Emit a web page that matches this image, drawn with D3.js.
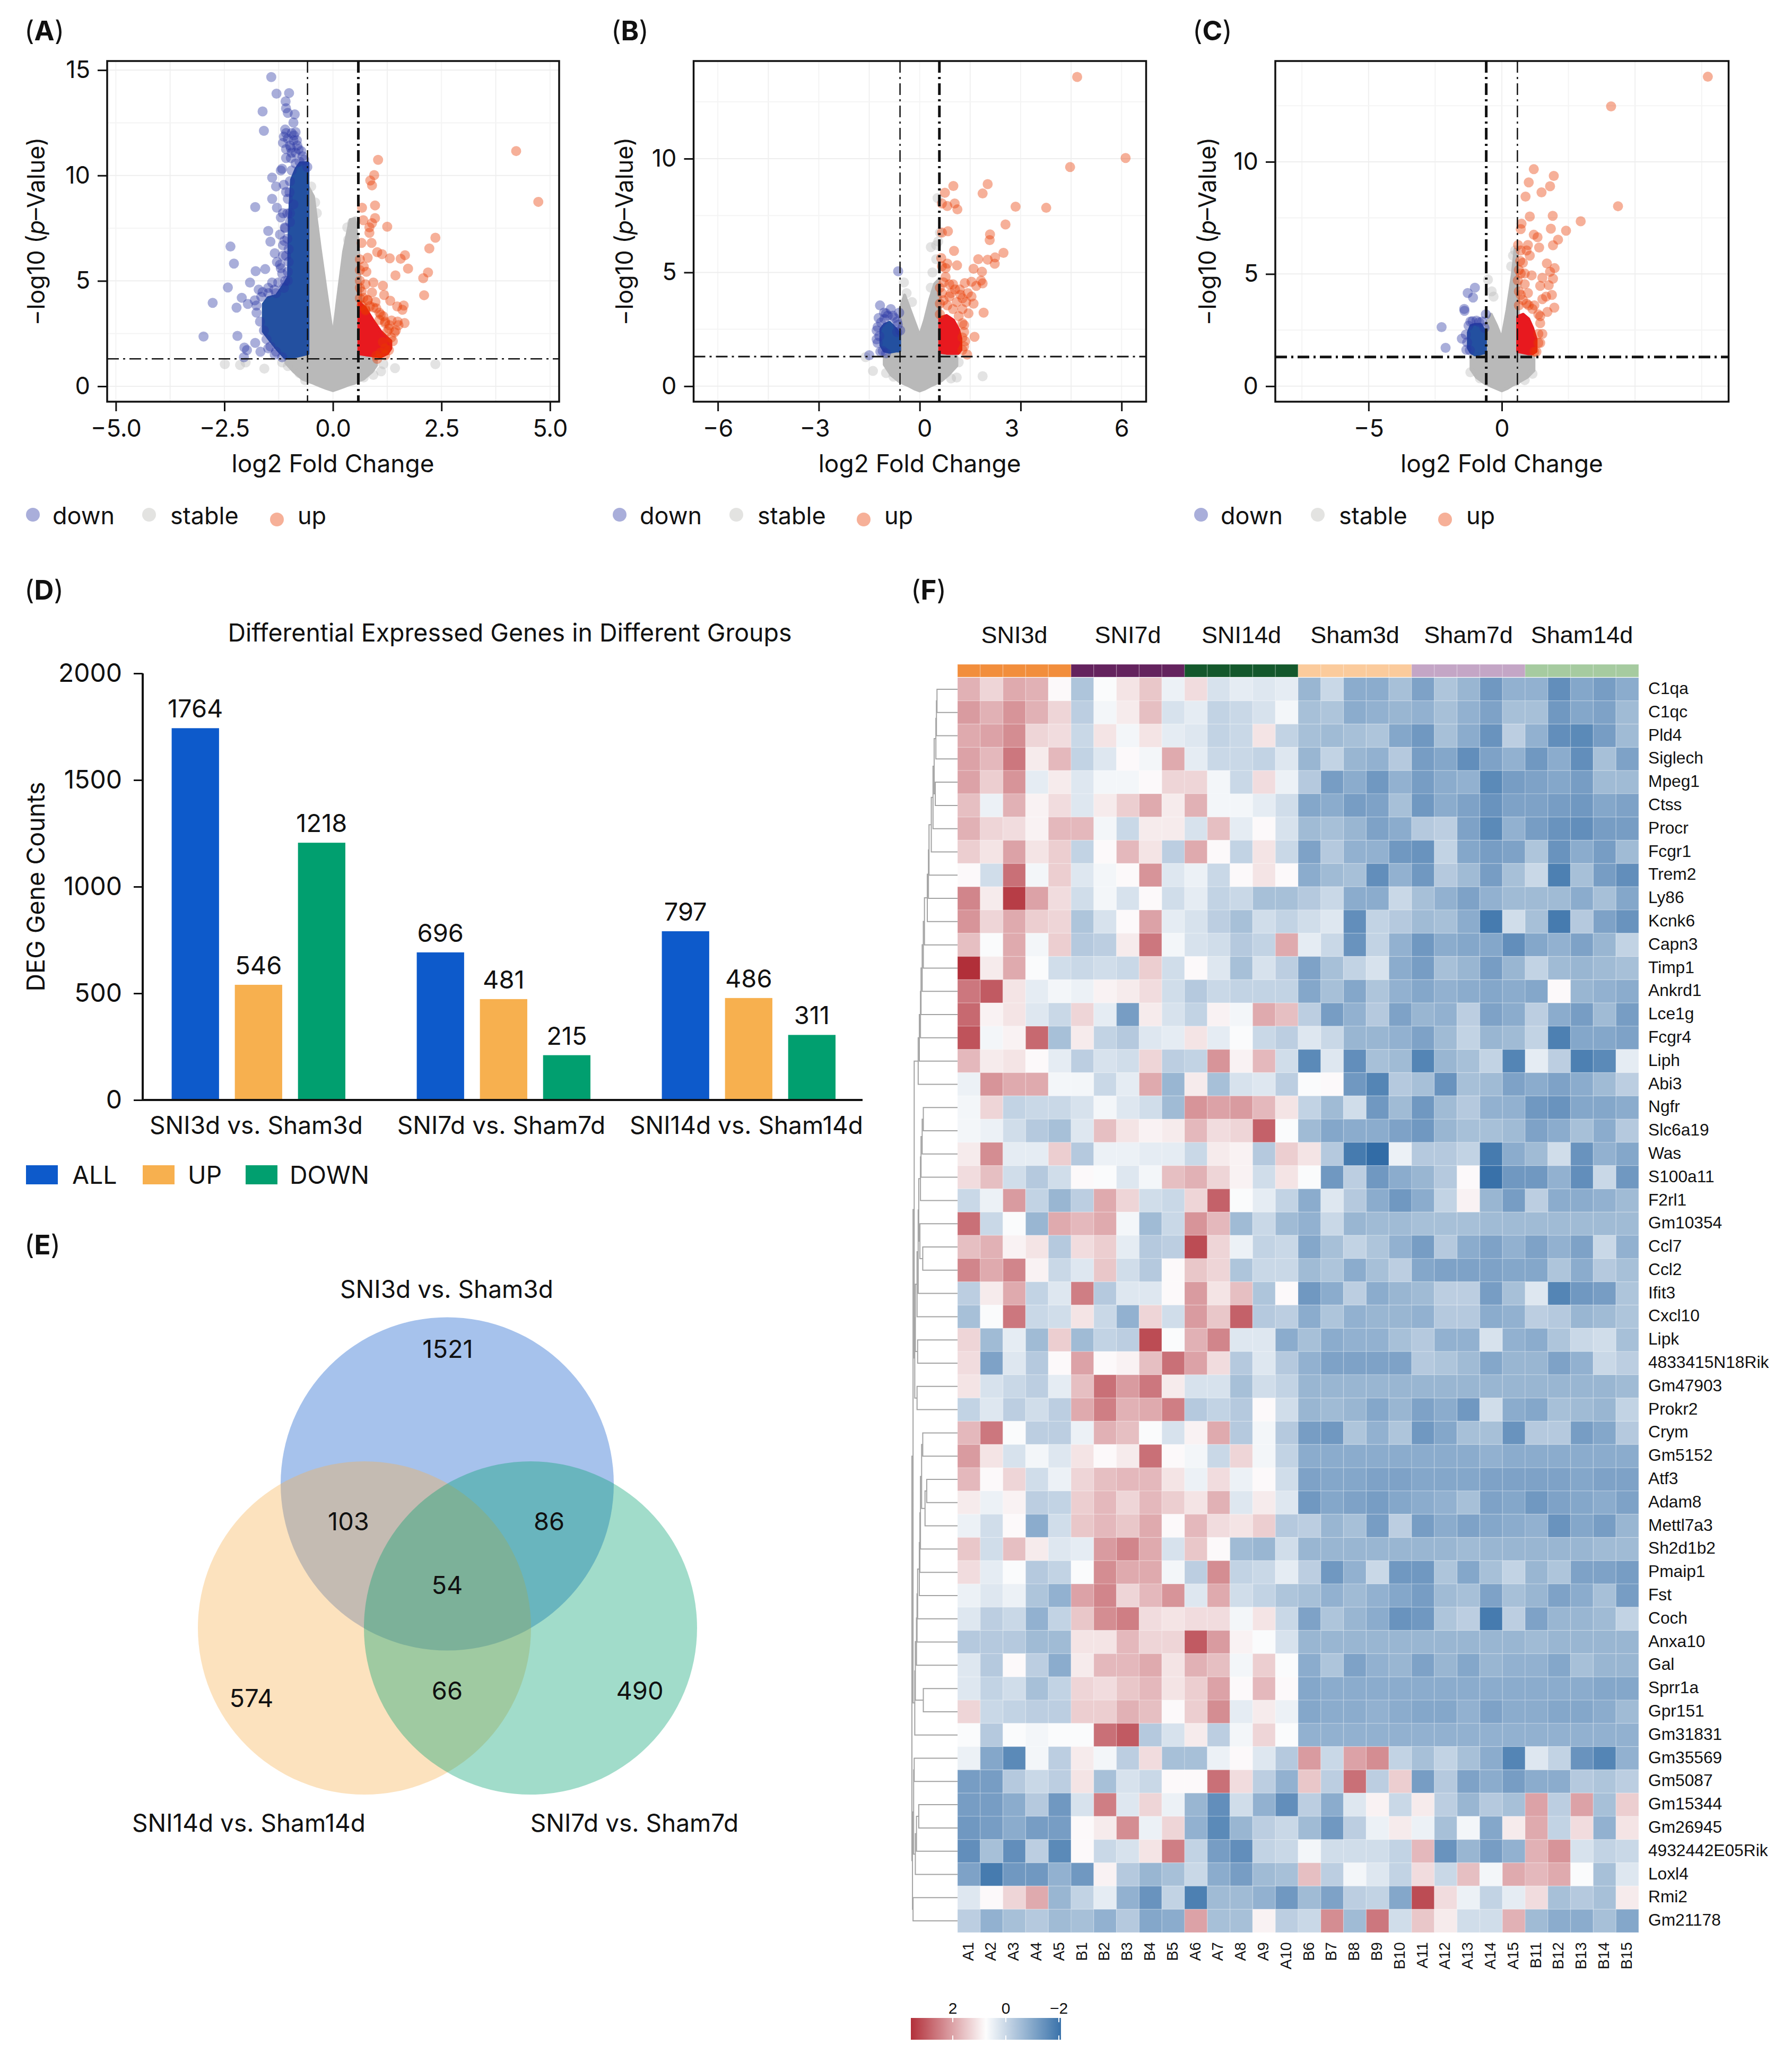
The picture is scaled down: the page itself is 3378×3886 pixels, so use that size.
<!DOCTYPE html>
<html>
<head>
<meta charset="utf-8">
<script src="https://cdnjs.cloudflare.com/ajax/libs/d3/7.8.5/d3.min.js"></script>
<style>
  html, body { margin: 0; padding: 0; background: #fff; }
  svg { display: block; }
  text { font-family: Inter, "Liberation Sans", sans-serif; fill: #111; }
  .hm text { font-family: "Liberation Sans", sans-serif; }
</style>
</head>
<body>
<div id="chart"></div>
<script>
const WIDTH = 3378;
const HEIGHT = 3886;

// volcano A: single dots [log2FC, -log10p], bands [x, y0, y1] = saturated overplot
const downPtsA = [[-1.42,14.67],[-1.30,13.88],[-1.01,13.91],[-1.09,13.52],[-1.08,13.19],[-1.04,12.97],[-.88,12.90],[-1.62,13.04],[-1.59,12.12],[-.91,12.51],[-1.10,12.18],[-.86,12.06],[-1.08,12.01],[-1.04,11.75],[-.83,11.67],[-1.15,11.55],[-.99,11.42],[-.79,11.25],[-.95,11.08],[-.77,10.66],[-.66,10.74],[-.59,10.40],[-1.20,10.24],[-1.08,10.83],[-1.40,9.90],[-1.31,9.48],[-1.13,9.56],[-1.17,10.32],[-1.40,8.89],[-1.29,8.47],[-1.20,8.01],[-1.04,8.89],[-.91,8.63],[-1.49,7.37],[-1.44,6.86],[-1.22,7.20],[-1.34,6.31],[-1.29,5.90],[-1.79,8.50],[-1.56,5.56],[-1.78,5.46],[-1.91,4.92],[-2.36,6.63],[-2.28,5.82],[-2.42,4.69],[-2.77,3.96],[-2.22,3.73],[-2.10,4.20],[-1.96,3.91],[-2.98,2.36],[-2.20,2.39],[-2.04,1.84],[-1.98,1.72],[-1.79,2.06],[-1.67,1.64],[-1.49,1.80],[-2.05,1.38],[-1.34,1.50],[-1.71,4.59],[-1.62,4.47],[-1.40,4.92],[-1.26,4.92],[-1.04,5.01],[-1.15,6.2],[-1.2,5.6],[-1.1,7.5],[-1.05,8.2],[-1.12,6.9],[-1.0,9.2],[-1.1,5.0],
[-1.76,3.49],[-1.68,3.07],[-1.59,2.65],[-1.53,2.23],[-1.44,1.89],[-1.31,1.64],[-1.17,1.38],[-1.80,4.08],[-1.65,4.25],[-1.49,4.42],[-1.31,4.42],[-1.76,3.83],[-1.13,4.67],[-1.35,4.59],[-1.49,4.67],[-1.17,5.35],[-1.22,5.77],[-1.04,5.43],[-1.08,6.19],[-1.15,6.69],[-1.11,7.54],[-.99,7.79],[-1.15,8.21],[-.99,8.21],[-1.08,9.22],[-.99,9.73],[-.95,10.24],[-.86,10.57],[-.97,10.83],[-.70,10.91],[-1.13,11.84],[-.91,11.67],[-.95,12.01],[-.82,11.42],[-.73,11.16],[-1.08,11.25],[-.86,11.08],[-1.02,6.5],[-1.05,7.0],[-1.02,5.9],[-.97,11.3],[-.9,11.9]];
const stablePtsA = [[-2.49,1.05],[-2.14,1.01],[-2.01,1.13],[-1.58,.84],[-1.17,1.13],[-1.04,.96],[-.77,.62],[-.64,.29],[.71,.42],[.93,.54],[1.16,1.05],[1.11,.71],[1.43,.86],[2.36,1.05],[.44,7.74],[.53,7.84],[-.50,9.48],[-.41,8.72],[-.37,8.21],[.35,6.95],[.33,7.54]];
const upPtsA = [[4.22,11.16],[4.73,8.75],[1.04,10.74],[.95,10.02],[.86,9.76],[.90,9.53],[.67,8.47],[.97,8.58],[.70,7.88],[.97,7.98],[.90,7.74],[.84,7.54],[1.25,7.57],[.84,7.28],[2.36,7.05],[2.22,6.54],[.66,6.80],[.89,6.80],[1.02,6.36],[1.13,6.27],[.80,6.10],[1.31,6.07],[1.56,6.05],[1.66,6.22],[.71,5.68],[1.73,5.58],[.77,5.43],[2.19,5.40],[1.44,5.26],[2.08,5.13],[.93,4.92],[1.15,4.77],[.62,5.01],[.66,4.50],[.90,4.45],[2.10,4.32],[1.18,4.33],[1.32,4.06],[1.48,3.79],[1.63,3.83],[1.60,3.63],[1.35,3.12],[1.65,3.00],[1.49,3.07],[1.07,3.49],[1.16,3.32],[1.45,2.65],[1.34,2.31],[.66,3.83],[.98,4.00],[.7,4.2],[.8,4.1],[1.0,3.7],[1.1,3.4],[1.2,3.0],[1.3,2.9],[.75,3.6],[.85,3.8],[1.25,2.6],[1.15,2.1],[1.2,1.8],[1.1,1.6],[1.0,1.45],
[.62,4.17],[.8,4.08],[.75,3.66],[.93,3.74],[1.07,3.15],[1.2,3.07],[1.29,2.73],[1.42,2.56],[1.38,2.14],[1.29,1.72],[1.2,1.47],[1.02,1.3],[1.51,2.9],[.62,4.67],[.75,4.84],[.62,5.51],[.62,6.02]];
const downBandA = [[-1.6,2.6,3.9],[-1.49,2.3,4.2],[-1.3,1.8,4.3],[-1.1,1.35,4.9],[-1.02,1.35,5.2],[-1.0,1.35,8],[-.95,1.38,9.8],[-.85,1.42,10.3],[-.75,1.47,10.6],[-.58,1.55,10.6]];
const stableBandA = [[-1.08,1.1,1.25],[-.9,.7,1.5],[-.7,.35,1.55],[-.58,.25,9.5],[-.45,.15,9.0],[-.3,.02,6.6],[-.15,-.1,4.4],[0,-.2,2.3],[.1,-.13,4.0],[.25,-.02,6.4],[.4,.1,7.9],[.5,.15,7.95],[.58,.25,6.8],[.7,.35,1.55],[.9,.7,1.5],[1.0,1.0,1.2]];
const upBandA = [[.6,1.55,4.0],[.75,1.5,3.7],[.93,1.45,3.1],[1.1,1.4,2.6],[1.25,1.55,2.3],[1.33,1.8,2.15]];

// volcano B
const downPtsB = [[-.64,5.05],[-1.18,3.55],[-.86,3.39],[-1.06,3.23],[-.61,3.23],[-1.22,3.0],[-.67,2.84],[-1.28,2.45],[-.67,2.38],[-.58,2.45],[-1.28,2.06],[-1.5,1.36],[-1.17,1.52],[-1.0,3.2],[-.8,3.1],[-1.15,2.8],[-1.25,2.6],[-1.2,2.2],[-1.25,1.9],[-1.1,1.55],[-1,1.45],[-.75,3.0],[-.95,3.1],[-1.05,2.95],[-.65,2.7]];
const stablePtsB = [[.53,8.27],[.6,6.75],[.55,6.36],[.33,6.11],[.49,6.2],[.38,5.0],[.49,5.58],[-.47,4.56],[-.39,4.09],[-.23,3.7],[.33,4.33],[-1.39,.67],[-1,.58],[-1.61,1.28],[-.78,.42],[1.87,.44],[1.1,.38],[1.16,1.05],[.93,.34]];
const upPtsB = [[4.68,13.59],[6.12,10.03],[4.47,9.63],[2.02,8.88],[1.00,8.80],[.75,8.50],[1.87,8.47],[1.04,8.03],[.66,8.03],[.82,7.92],[1.12,7.77],[2.85,7.89],[3.76,7.84],[2.55,7.11],[.84,6.81],[.66,6.75],[2.09,6.67],[2.08,6.42],[1.02,5.95],[2.49,5.86],[1.74,5.58],[2.02,5.56],[2.24,5.66],[2.23,5.38],[.64,5.63],[1.11,5.31],[.82,5.39],[.66,5.27],[1.60,5.16],[1.85,5.03],[.77,5.19],[1.34,4.53],[1.54,4.59],[1.82,4.64],[1.87,4.52],[1.68,4.41],[.71,4.56],[.88,4.48],[1.05,4.25],[1.21,4.02],[1.54,3.94],[1.38,3.70],[1.60,3.63],[1.90,3.23],[1.45,3.20],[1.63,2.17],[1.41,1.39],[1.27,3.39],[.88,3.94],[.66,4.09],[1.10,3.70],[.60,3.63],[1.32,2.69],[1.27,2.14],[1.32,1.75],
[.6,3.16],[.82,3.55],[.99,3.39],[1.16,3.08],[1.27,2.77],[1.32,2.38],[1.35,1.98],[1.27,1.59],[.71,3.78],[.93,4.09],[.6,4.33],[.77,4.8],[.99,4.48],[1.19,4.25],[1.43,4.09],[1.27,3.86]];
const downBandB = [[-1.15,1.8,2.5],[-1.05,1.55,2.7],[-.9,1.5,2.8],[-.7,1.55,2.5],[-.6,1.55,2.3]];
const stableBandB = [[-1.05,.95,1.3],[-.85,.5,1.45],[-.6,.2,1.55],[-.58,.2,3.4],[-.45,.1,4.0],[-.3,0,3.4],[-.15,-.12,2.8],[0,-.2,2.2],[.15,-.12,2.9],[.3,0,3.8],[.45,.1,4.5],[.58,.2,4.7],[.65,.25,1.5],[.85,.5,1.45],[1.1,.9,1.3]];
const upBandB = [[.6,1.5,3.0],[.8,1.45,3.1],[1.0,1.45,2.9],[1.15,1.45,2.5],[1.22,1.6,2.1]];

// volcano C
const downPtsC = [[-1.01,4.39],[-1.28,4.15],[-1.08,3.95],[-1.41,3.44],[-1.40,3.36],[-.60,3.20],[-2.26,2.63],[-2.11,1.71],[-1.50,2.12],[-1.33,1.62],[-1.18,2.88],[-.74,2.88],[-1.35,2.3],[-1.3,1.95],[-1.25,2.7],[-1.1,2.9],[-.95,2.92],[-.85,2.85],[-.65,2.6],[-1.2,1.6]];
const stablePtsC = [[-.52,4.75],[-.38,4.23],[-.31,3.99],[.42,5.82],[.5,6.05],[.35,5.34],[-1.18,.62],[1.15,.55],[-.82,.35],[.86,.27],[.57,4.55]];
const upPtsC = [[7.73,13.79],[4.10,12.47],[4.36,8.02],[1.20,9.67],[1.95,9.37],[1.01,9.08],[1.81,8.91],[1.49,8.64],[.89,8.45],[1.05,7.56],[1.91,7.59],[2.96,7.35],[.74,7.24],[.71,7.00],[1.84,7.02],[2.41,6.93],[1.20,6.75],[1.34,6.64],[2.11,6.53],[.98,6.29],[1.40,6.18],[1.92,6.28],[.61,6.29],[.71,6.05],[.93,6.05],[1.05,5.82],[.79,5.50],[1.69,5.47],[1.98,5.26],[1.81,5.10],[1.52,4.83],[1.92,4.79],[1.12,4.94],[.71,5.02],[1.44,4.47],[1.76,4.50],[1.88,4.07],[1.66,3.99],[1.52,3.88],[.98,4.15],[.71,4.07],[1.01,3.60],[1.97,3.50],[1.71,3.31],[1.22,3.6],[1.44,3.12],[1.37,2.33],[1.37,1.93],[1.3,1.54],
[.64,3.6],[.93,3.68],[1.15,3.44],[1.37,3.2],[1.44,2.81],[1.52,2.33],[1.44,1.93],[1.22,1.54],[.79,3.84],[.64,4.23],[.86,4.55],[.6,4.71],[.64,5.18],[.86,5.02],[.69,5.58]];
const downBandC = [[-1.25,1.7,2.4],[-1.15,1.5,2.7],[-1,1.4,2.75],[-.8,1.45,2.75],[-.62,1.5,2.4]];
const stableBandC = [[-1.15,.75,1.3],[-.95,.4,1.5],[-.6,.1,1.55],[-.58,.1,2.8],[-.4,0,3.2],[-.2,-.1,2.7],[0,-.2,2.1],[.2,-.1,3.4],[.4,.05,5],[.5,.1,6.1],[.58,.1,6.0],[.65,.2,1.5],[.95,.4,1.5],[1.2,.7,1.3]];
const upBandC = [[.6,1.55,3.1],[.8,1.5,3.2],[1.0,1.45,3.0],[1.15,1.45,2.6],[1.28,1.55,2.1]];

// bar chart D
const degGroups = ["SNI3d vs. Sham3d", "SNI7d vs. Sham7d", "SNI14d vs. Sham14d"];
const degKeys = ["ALL", "UP", "DOWN"];
const degLabels = [[1764, 546, 1218], [696, 481, 215], [797, 486, 311]];
const degHeights = [[1743, 540, 1206], [692, 473, 210], [791, 478, 305]];

// venn E
const vennSets = ["SNI3d vs. Sham3d", "SNI14d vs. Sham14d", "SNI7d vs. Sham7d"];
const vennCounts = [1521, 103, 86, 54, 574, 66, 490];

// heatmap F
const genes = ["C1qa","C1qc","Pld4","Siglech","Mpeg1","Ctss","Procr","Fcgr1","Trem2","Ly86","Kcnk6","Capn3","Timp1","Ankrd1","Lce1g","Fcgr4","Liph","Abi3","Ngfr","Slc6a19","Was","S100a11","F2rl1","Gm10354","Ccl7","Ccl2","Ifit3","Cxcl10","Lipk","4833415N18Rik","Gm47903","Prokr2","Crym","Gm5152","Atf3","Adam8","Mettl7a3","Sh2d1b2","Pmaip1","Fst","Coch","Anxa10","Gal","Sprr1a","Gpr151","Gm31831","Gm35569","Gm5087","Gm15344","Gm26945","4932442E05Rik","Loxl4","Rmi2","Gm21178"];
const samples = ["A1","A2","A3","A4","A5","B1","B2","B3","B4","B5","A6","A7","A8","A9","A10","B6","B7","B8","B9","B10","A11","A12","A13","A14","A15","B11","B12","B13","B14","B15"];
const sampleGroups = ["SNI3d","SNI7d","SNI14d","Sham3d","Sham7d","Sham14d"];
const groupColors = ["#F28E3C","#64235E","#14582C","#FBCB9C","#C4A6C6","#A6CBA0"];
const heat = [
[1.8,1.3,1.9,1.8,.8, -.4,.7,1.1,1.5,.5, 1.2,.2,.4,.3,.4, -.7,0,-.9,-.9,-.5, -1.1,-.4,-.7,-1.3,-.8, -.8,-1.5,-1,-1.2,-.9],
[2.1,1.8,2.2,1.8,1.3, -.2,.6,1,1.6,.2, .4,-.1,0,.2,.6, -.5,-.4,-.9,-.8,-.7, -.8,-.5,-.8,-1.1,-.5, -.5,-1.3,-1,-1.1,-.6],
[1.9,2,2.3,1.3,1.2, 0,1.1,.6,1.1,.4, .3,-.1,0,1.1,-.1, -.5,-.6,-.5,-.4,-1, -1.3,-.5,-.9,-1.4,-.2, -.8,-1.5,-1.6,-1.2,-.6],
[2,1.7,2.6,1,1.7, -.1,.3,.8,.6,1.9, .4,0,0,-.1,.3, -.7,-.1,-.7,-.8,-.3, -1.2,-1,-1.5,-1.1,-.8, -1.3,-.9,-1.5,-.5,-1.1],
[2,1.4,2.2,.4,1, .3,.6,.6,.8,1.3, 1.3,.6,0,1.2,.5, -.3,-1.2,-.9,-1.3,-.8, -1.2,-.9,-.8,-1.6,-1.2, -1.1,-1,-1.2,-.6,-.6],
[1.6,.5,1.8,.9,1.2, .3,1,1.4,1.9,1, 1.8,.6,.6,.4,.1, -1,-.9,-1.2,-1.1,-.5, -1.3,-.9,-1.1,-1.4,-1.1, -1.1,-1.2,-1.3,-1,-1.1],
[1.8,1.3,1.2,.9,1.7, 1.7,.6,0,1,1, .2,1.6,.4,.8,.2, -.6,-.5,-.7,-1.1,-.9, -.3,-.2,-1.1,-1.6,-.8, -1.2,-1.4,-1.5,-1.2,-1.2],
[1.4,1.1,2,1.1,1.4, -.1,.8,1.7,1.1,-.2, 1.9,.8,-.1,1.1,0, -1.1,-.3,-.8,-.8,-1.3, -1.4,-.1,-1,-1.2,-1.1, -.4,-1.4,-.9,-1.2,-.6],
[.8,.1,2.7,.6,1.4, .3,.6,.8,2.2,.3, .5,0,.8,1.1,.8, -.9,-.6,-.5,-1.5,-.8, -1.3,-.3,-.6,-1.2,-.5, 0,-1.8,-.5,-1.2,-1.5],
[2.4,1,3.4,2,1.2, .1,.6,.2,.8,.1, .4,-.1,0,-.5,-.5, -.3,0,-.9,-.9,0, -.5,-.8,-1.1,-.8,-.6, -.6,-.6,-.9,-.5,-1],
[2.2,1.3,1.9,1.4,1.3, -.4,.2,.8,2,.4, .2,-.2,-.5,.1,-.1, .1,.3,-1.5,-.1,-.3, -.6,-.5,-.9,-1.9,.1, -.5,-1.9,-.3,-1.1,-1.4],
[1.6,.7,1.9,.6,1.4, -.3,-.2,1,2.6,.6, .2,.1,-.3,-.1,1.9, .4,0,-1.4,-.1,-.8, -1.3,-.9,-1,-1,-1.5, -1,-.8,-1.1,-.7,-.1],
[3.6,1,1.9,.7,.1, 0,.1,0,1.4,.1, .8,.3,-.5,.2,-.2, -1.1,-.5,-.1,.2,-.9, -1.2,-.5,-.7,-1.2,-.7, -.1,-.6,-.7,-.6,-.5],
[2.6,3,1.1,.4,.6, .5,.9,1,1.2,.1, -.3,0,-.1,-.1,-.1, -1,-.5,-1,-.4,-.8, -1,-.8,-.9,-1,-.9, -1,.8,-.7,-.8,-.9],
[2.8,.9,1.1,.3,0, 1.3,.4,-1.2,1,.2, -.1,.9,.6,1.9,1.6, -.2,-1.2,-.8,-.3,-1.1, -.7,-.8,-.2,-1.1,-.9, -.2,-.9,-1.2,-.6,-1.2],
[3.1,.6,.9,2.8,-.5, 1,-.1,-.3,.3,.4, 1.1,.4,.7,0,-.2, .3,0,-.7,-.7,-.8, -1.1,-.6,-.1,-.7,-.6, -.1,-1.8,-1,-1,-1.1],
[1.7,1,1.1,.8,.4, -.2,.2,.1,1.3,-.2, -.1,2.2,.9,1.7,.1, -1.6,.3,-1.5,-.5,-.6, -1.7,-.7,-.5,-.1,-1.7, .4,-.2,-1.8,-1.6,.4],
[.5,2.2,1.9,1.9,.6, .6,0,.4,1.9,-.7, 1,-.5,.2,.3,-.2, .7,.8,-1.3,-1.7,-.3, -.5,-1.4,-.5,-.6,-1.1, -.9,-1.1,-.9,-.6,-.2],
[.6,1.3,-.1,0,0, .2,.6,.3,.1,-.6, 2.2,2,2.1,1.7,1.1, -.1,-.6,.1,-1.3,-.6, -1.3,-.6,-.3,-.8,-.8, -1.3,-1.4,-1,-1,-.9],
[.6,.5,.1,-.3,-.5, .3,1.6,1.1,.9,1, 1.7,1.2,1.3,2.9,.7, -.6,-1,-.9,-.9,-1.1, -1.3,-.7,-.5,-.5,-.6, -1.1,-.9,-.5,-.9,-.3],
[1,2.3,.4,.4,1.4, -.3,.5,.5,.4,.4, 0,1,.9,-.3,1.4, 1.1,-.3,-1.9,-2.2,.5, -.3,-.3,-.1,-1.9,-.9, -.6,.1,-1.4,-.8,-1],
[1.2,1.6,.1,-.3,.1, .8,.7,.3,.6,1.6, 1.8,1.3,.9,.1,1.1, .7,-1.3,-.2,-1.3,-.9, -.7,-.3,.8,-2.1,-1.3, -1.3,-.8,-1.5,0,-1.3],
[0,.5,2.1,-.1,-.7, -.2,1.9,1.3,.1,0, 1.3,2.9,.7,.4,-.1, -.9,.3,-.3,-.9,-1.3, -.9,-.1,.9,-.7,-1.2, -.2,-.9,-.9,-.8,-.6],
[2.7,0,.7,-.7,1.9, 1.7,1.9,.6,-.6,0, 2.2,1.7,-.6,0,-.6, -.8,0,-.7,-.6,-.6, -.5,-.5,-.5,-.6,-.6, -.6,-.6,-.6,-.6,-.6],
[1.6,1.8,.9,1.1,-.3, 1.2,1.4,.4,-.3,-.2, 3.2,1.3,.5,-.1,0, -1,-.5,-.1,-.4,-.8, -1.2,-.3,-.9,-1.1,-.8, -1.1,-.8,-1.1,0,-.8],
[2.4,1.9,2.4,.9,0, .3,1.5,.1,-.3,.8, 1.5,1.3,-.4,0,0, -.6,-.4,-.9,-.5,-.2, -1,-1.1,-1.1,-1.1,-1, -1,-.4,-.9,-.3,-.5],
[-.2,1,1.9,-.1,.3, 2.5,-.3,.3,.3,.8, 2.1,1.1,1.6,-.4,.8, -1.3,-.9,-.2,-.9,-.7, -.6,-.2,-.2,-1.2,-.5, .3,-1.7,-1.3,-1.2,-.4],
[-.5,.7,2.6,0,.1, 1.1,0,-.8,1.3,.1, 2.1,1.5,2.9,-.3,-.2, -.9,-.4,-.8,-.7,-.7, -.8,-.3,-.3,-.9,-.8, -.2,-.3,-.7,-.6,-.4],
[1.3,-.6,.4,-.6,1.4, -.6,-.1,-.2,3.2,.7, 1.8,2.4,.3,.3,-.9, -.5,-.9,-.8,-.8,-.5, -.3,-.8,-.8,.2,-.8, -.9,-.4,0,.1,-.5],
[1.2,-1.1,.3,-.3,.8, 2,.8,.9,1.6,2.7, 2,1.2,-.3,.3,-.3, -.8,-1.1,-1.1,-1.1,-1.1, -.3,-.4,-.6,-1,-.7, -.7,-1.1,-.8,0,-.2],
[1.1,.2,0,-.2,.4, 1.6,2.7,2.1,2.6,1, .2,.2,-.5,.1,-.1, -.7,-.7,-.7,-.7,-.7, -.7,-.7,-.7,-.7,-.7, -.7,-.7,-.7,-.7,-.6],
[-.1,.3,-.2,.1,-.2, 1.9,2.5,1.8,1.9,2.5, -.3,-.1,-.3,.8,.1, -.7,-.6,-.7,-1,-.7, -1.1,-.9,-1.3,.1,-.9, -1,-.5,-.6,-.7,-.1],
[1.7,2.6,.7,-.2,-.2, .5,1.8,1.6,.7,.2, .9,1.9,-.3,.6,-.3, -1.2,-1.3,-.4,-.8,-.4, -1.3,-1,-.5,-.5,-1.4, -.3,-.3,-1.2,-1,-.3],
[2.1,1.1,.2,.6,.3, 1.1,.8,1,2.7,.8, .6,0,1.3,.6,-.1, -.9,-.9,-.9,-.9,-.9, -.9,-.9,-.9,-.8,-.9, -.9,-.9,-.9,-.9,-.9],
[1.7,.8,1.3,.1,.5, 1.3,1.6,1.7,1.7,1.1, .5,1.2,.5,.8,.1, -1.1,-1,-1,-1.1,-1.1, -1,-1,-1,-1.1,-1.1, -1.1,-1.1,-1,-1.1,-1.1],
[1,.5,.9,-.2,-.1, 1.4,1.7,1.3,1.7,1.4, 1.1,1.8,.3,1,.3, -1.3,-1,-1.1,-1.2,-1, -.9,-.8,-.5,-1.1,-1, -1.3,-1.1,-1,-.9,-1.1],
[.5,.1,.8,-.9,.1, 1.5,1.7,1.5,1.9,.8, 1.7,1.2,1.1,1.4,-.3, -.2,-.7,-.5,-1.2,-.2, -1.2,-.9,-1.1,-1,-.9, -.8,-1.4,-1,-1.2,-.7],
[1.5,.1,1.6,1,.3, .4,2.1,2.4,1.9,.2, 1.5,.8,-.6,-.7,.1, -.7,-.7,-.7,-.7,-.7, -.7,-.7,-.6,-.7,-.7, -.7,-.7,-.7,-.6,-.6],
[1.2,.4,.7,-.3,-.1, .7,2.3,1.9,1.9,.6, -.2,2.3,-.1,0,.4, -.2,-1.3,-.8,0,-1.3, -1.3,-.4,-1,-.5,-.1, -.7,-.4,-1.1,-1.1,-1.2],
[.5,.3,.5,-.4,-.8, 2,2.4,1.3,1.7,2.2, .3,1.9,.1,-.1,-.4, -.5,-.8,-.6,-.8,-1, -1.2,-.6,-.5,-1.1,-.5, -.7,-1.1,-.9,-.5,-1.2],
[.3,-.2,0,-.8,-.1, 1.5,2.3,2.5,1.2,1.1, 1.2,1.2,.6,1.1,0, -1.1,-.4,-.7,-.9,-1.4, -1.3,-.4,-.2,-1.9,-.2, -1.1,-.7,-.7,-.6,-.1],
[-.3,-.3,-.3,-.6,-.6, 1.1,1.1,1.7,1.3,1.3, 3,2.1,.9,.7,.2, -.7,-.7,-.7,-.7,-.7, -.7,-.7,-.7,-.7,-.7, -.6,-.7,-.7,-.7,-.7],
[.3,-.3,.8,-.2,-.9, 1,1.7,1.7,1.9,1.1, 1.8,1.6,.6,1.4,.7, -.9,-.4,-1.1,-.8,-.7, -1.1,-.7,-1,-.7,-.8, -.8,-1,-.5,-.7,-.7],
[.3,-.1,.1,-.5,-.1, 1.3,1.2,1.5,1.7,1.1, 1.4,2,.8,1.7,.8, -1,-.9,-.9,-.9,-.9, -.9,-.9,-.9,-.9,-.9, -.9,-.9,-.9,-1,-1],
[1.3,0,-.1,-.2,-.2, 1.4,1.4,1.8,1.6,.8, 1.4,2.3,.4,1,.5, -1,-.9,-.9,-.8,-.9, -1,-1,-.8,-1.1,-.9, -.9,-1,-1,-.9,-.6],
[.7,-.3,.7,.6,.7, .7,2.7,3,-.3,.2, 1,-.2,.6,1.3,.7, -.8,-.8,-.8,-.8,-.8, -.8,-.8,-.8,-.8,-.8, -.8,-.8,-.8,-.8,-.8],
[.5,-1,-1.6,.6,-.2, 1,.6,-.2,1.2,-.5, -.5,.5,.8,.3,-.3, 2.1,0,2,2.3,-.1, -.5,-.1,-.5,-.9,-1.7, .3,-.1,-1.4,-1.7,-.8],
[-1.2,-1.2,-.3,0,-.2, 1.1,-.5,.2,0,.8, .8,2.7,1.2,-.2,-.8, 1.5,-.2,2.7,-.2,1.4, -1.2,-.3,-1.1,-.9,-1.2, -.9,-.9,-.3,-.4,-.2],
[-1.2,-1.2,-.9,-.3,-1.3, .2,2.5,.3,1.3,.5, -.7,-1.5,.1,-.8,-1.5, -.2,-.9,.3,.9,0, 1,-.2,-.7,-.3,-.5, 2,-.2,2,-.5,1.4],
[-1.3,-1.2,-.9,-1.2,-1.2, .8,1,2.3,.5,1.3, -.8,-1.6,-.7,-.2,0, -.6,-1.3,-.2,.5,1, .5,-.5,.6,-1,1, 1.9,-.1,1.2,-.8,1.1],
[-1.5,-.5,-1.5,-.2,-1.6, .8,0,.2,1.1,2.5, -.1,-1.2,-1.5,-.1,0, .6,.1,.1,.1,-.1, 1.7,-1.4,-.7,-1.2,-.8, 1.8,2.2,.2,-.1,0],
[-1.1,-1.9,-1.3,-1.3,-.8, -1.3,.9,-.3,-.7,-.5, 0,-.9,-1.2,-.6,-.5, 1.6,-.2,.6,.3,-.1, 1.2,0,1.6,.6,1.9, 1.7,1.9,.7,-.5,.3],
[.3,.8,1.3,1.9,-.7, -.1,.4,-.8,-1.4,-.1, -1.8,-.6,-.6,-.8,-1.3, -.6,-1.1,-.2,-.1,-1, 3.2,1.2,.5,-.1,.4, 1.2,-.5,-.3,-.5,1],
[-.2,-.8,-.5,-.3,-.6, -.5,-.8,-.3,-1,-.9, 2,-.5,-.5,.9,-.2, 0,2.3,-.6,2.6,.1, 1.5,1,.1,.1,1.8, -.6,-.9,-.9,-.5,-1]
];
// gene tree, hclust style: [left, right, height], negative = gene number, positive = earlier merge number
const dendroMerges = [
[-1,-2,36],[1,-3,37],[2,-4,38],[-5,-6,39],[3,4,41],[5,-7,43],[6,-8,46],[7,-9,50],[8,-10,51],[9,-11,53],[10,-12,58],[11,-13,60],[12,-14,62],[13,-15,64],[14,-16,65],[15,-17,67],[16,-18,69],
[-19,-20,60],[18,-21,62],[19,-22,64],[20,-23,65],[-25,-26,61],[-24,22,66],[21,23,68],[24,-27,69],[25,-28,71],[-29,-30,70],[26,27,74],[-31,-32,71],[28,29,75],[17,30,76],
[-33,-34,61],[-35,-36,54],[33,-37,57],[32,34,63],[35,-38,65],[36,-39,66],[37,-40,67],[38,-41,70],[39,-42,71],[40,-43,72],[-44,-45,60],[41,42,74],[43,-46,75],[31,44,78],
[-47,-48,76],[-49,-50,68],[47,-51,72],[48,-52,74],[46,49,77],[-53,-54,78],[50,51,79],[45,52,80]
];
const colorbarTicks = [2, 0, -2];

const svg = d3.select("#chart").append("svg").attr("width", WIDTH).attr("height", HEIGHT);

function panelLabel(letter, x, y) {
  const t = svg.append("text").attr("x", x).attr("y", y).attr("font-size", 51);
  t.append("tspan").text("(");
  t.append("tspan").attr("font-weight", 700).text(letter);
  t.append("tspan").text(")");
}

const colors = {
  down: { dot: "#2834A2", band: "#2350A0", key: "#A9AEDA" },
  stable: { dot: "#B9B9B9", band: "#B9B9B9", key: "#E3E3E1" },
  up: { dot: "#E83900", band: "#E8191F", key: "#F6B098" },
};

function volcano(p) {
  const x = d3.scaleLinear().domain(p.xDomain).range([p.left, p.right]);
  const y = d3.scaleLinear().domain(p.yDomain).range([757, 115]);
  const g = svg.append("g");

  const gridG = g.append("g").attr("stroke-width", 2);
  gridG.selectAll(".gx").data(p.xGrid).join("line")
    .attr("x1", (d) => x(d)).attr("x2", (d) => x(d)).attr("y1", 115).attr("y2", 757)
    .attr("stroke", (d, i) => (i % 2 ? "#f0f0f0" : "#f4f4f4"));
  gridG.selectAll(".gy").data(p.yGrid).join("line")
    .attr("y1", (d) => y(d)).attr("y2", (d) => y(d)).attr("x1", p.left).attr("x2", p.right)
    .attr("stroke", (d) => (d % 5 === 0 ? "#eeeeee" : "#f4f4f4"));

  const area = d3.area().x((d) => x(d[0])).y0((d) => y(d[1])).y1((d) => y(d[2]));
  const layer = (name, band, pts) => {
    const c = colors[name];
    g.append("path").attr("d", area(band)).attr("fill", c.band)
      .attr("stroke", c.band).attr("stroke-width", 6).attr("stroke-linejoin", "round");
    g.append("g").selectAll("circle").data(pts).join("circle")
      .attr("cx", (d) => x(d[0])).attr("cy", (d) => y(d[1])).attr("r", 9.5)
      .attr("fill", c.dot).attr("opacity", 0.4);
  };
  layer("stable", p.stableBand, p.stablePts);
  layer("down", p.downBand, p.downPts);
  layer("up", p.upBand, p.upPts);

  const dash = "22 8 4 8";
  [[-0.585, p.lw[0]], [0.585, p.lw[1]]].forEach(([v, w]) => {
    g.append("line").attr("x1", x(v)).attr("x2", x(v)).attr("y1", 115).attr("y2", 757)
      .attr("stroke", "#111").attr("stroke-width", w).attr("stroke-dasharray", dash);
  });
  g.append("line").attr("x1", p.left).attr("x2", p.right).attr("y1", y(1.3)).attr("y2", y(1.3))
    .attr("stroke", "#111").attr("stroke-width", p.lw[2]).attr("stroke-dasharray", dash);

  g.append("rect").attr("x", p.left).attr("y", 115).attr("width", p.right - p.left).attr("height", 642)
    .attr("fill", "none").attr("stroke", "#111").attr("stroke-width", 3.5);

  const xAxis = g.append("g").attr("transform", "translate(0,757)")
    .call(d3.axisBottom(x).tickValues(p.xTicks).tickFormat(d3.format(p.xFormat)).tickSize(18).tickPadding(16));
  const yAxis = g.append("g").attr("transform", `translate(${p.left},0)`)
    .call(d3.axisLeft(y).tickValues(p.yTicks).tickSize(18).tickPadding(14));
  [xAxis, yAxis].forEach((a) => {
    a.select(".domain").remove();
    a.selectAll("line").attr("stroke", "#111").attr("stroke-width", 3);
    a.selectAll("text").attr("font-size", 45).attr("font-family", "Inter").attr("fill", "#111");
  });
  if (p.xLabelDx) xAxis.selectAll("text").attr("dx", (d, i) => p.xLabelDx[i]);

  g.append("text").attr("x", x(0)).attr("y", 890).attr("text-anchor", "middle").attr("font-size", 46)
    .text("log2 Fold Change");
  const yt = g.append("text").attr("transform", `translate(${p.yTitleX},436) rotate(-90)`)
    .attr("text-anchor", "middle").attr("font-size", 45);
  yt.append("tspan").text("\u2212log10 (");
  yt.append("tspan").attr("font-style", "italic").text("p");
  yt.append("tspan").text("\u2013Value)");

  ["down", "stable", "up"].forEach((k, i) => {
    g.append("circle").attr("cx", p.keyDots[i]).attr("cy", k === "up" ? 979 : 970).attr("r", 13).attr("fill", colors[k].key);
    g.append("text").attr("x", p.keyText[i]).attr("y", 988).attr("font-size", 45).text(k);
  });
}

volcano({
  left: 202, right: 1054, xDomain: [-5.2, 5.21], yDomain: [-0.73, 15.43], xFormat: ".1f",
  xTicks: [-5, -2.5, 0, 2.5, 5], yTicks: [0, 5, 10, 15],
  xGrid: [-5, -3.75, -2.5, -1.25, 0, 1.25, 2.5, 3.75, 5], yGrid: [0, 2.5, 5, 7.5, 10, 12.5, 15],
  downPts: downPtsA, stablePts: stablePtsA, upPts: upPtsA, downBand: downBandA, stableBand: stableBandA, upBand: upBandA,
  lw: [2.5, 5, 2.5], yTitleX: 84, keyDots: [62, 281, 522], keyText: [99, 321, 561],
});
volcano({
  left: 1307.5, right: 2160.5, xDomain: [-6.72, 6.73], yDomain: [-0.68, 14.29], xFormat: "d",
  xTicks: [-6, -3, 0, 3, 6], yTicks: [0, 5, 10], xLabelDx: [0, -8, 9, -17, 0],
  xGrid: [-6, -4.5, -3, -1.5, 0, 1.5, 3, 4.5, 6], yGrid: [0, 2.5, 5, 7.5, 10, 12.5],
  downPts: downPtsB, stablePts: stablePtsB, upPts: upPtsB, downBand: downBandB, stableBand: stableBandB, upBand: upBandB,
  lw: [2.5, 5, 3], yTitleX: 1193, keyDots: [1168, 1388, 1628], keyText: [1206, 1428, 1667],
});
volcano({
  left: 2404, right: 3258.5, xDomain: [-8.5, 8.51], yDomain: [-0.69, 14.49], xFormat: "d",
  xTicks: [-5, 0], yTicks: [0, 5, 10],
  xGrid: [-7.5, -5, -2.5, 0, 2.5, 5, 7.5], yGrid: [0, 2.5, 5, 7.5, 10, 12.5],
  downPts: downPtsC, stablePts: stablePtsC, upPts: upPtsC, downBand: downBandC, stableBand: stableBandC, upBand: upBandC,
  lw: [5, 2.5, 5], yTitleX: 2292, keyDots: [2264, 2484, 2724], keyText: [2301, 2524, 2764],
});
panelLabel("A", 46, 76);
panelLabel("B", 1152, 76);
panelLabel("C", 2248, 76);

// D: grouped bars
function drawBars() {
  const g = svg.append("g");
  const x0 = d3.scaleBand().domain(degGroups).range([254, 1640]);
  const x1 = d3.scaleBand().domain(degKeys).range([69.6, 397]).paddingInner(0.25);
  const y = d3.scaleLinear().domain([0, 2000]).range([2073, 1269]);
  const barColor = d3.scaleOrdinal().domain(degKeys).range(["#0D5ACB", "#F7B04F", "#019F6F"]);

  degGroups.forEach((grp, gi) => {
    degKeys.forEach((k, ki) => {
      const bx = x0(grp) + x1(k);
      g.append("rect").attr("x", bx).attr("width", x1.bandwidth())
        .attr("y", y(degHeights[gi][ki])).attr("height", y(0) - y(degHeights[gi][ki]))
        .attr("fill", barColor(k));
      g.append("text").attr("x", bx + x1.bandwidth() / 2).attr("y", y(degHeights[gi][ki]) - 20)
        .attr("text-anchor", "middle").attr("font-size", 47).text(degLabels[gi][ki]);
    });
    g.append("text").attr("x", x0(grp) + x0.bandwidth() / 2 - 2).attr("y", 2137)
      .attr("text-anchor", "middle").attr("font-size", 46).text(grp);
  });

  const yAxis = g.append("g").attr("transform", "translate(269,0)")
    .call(d3.axisLeft(y).tickValues([0, 500, 1000, 1500, 2000]).tickSize(17).tickPadding(22).tickFormat(d3.format("d")));
  yAxis.select(".domain").attr("stroke", "#111").attr("stroke-width", 4).attr("d", "M0,1269V2073");
  yAxis.selectAll("line").attr("stroke", "#111").attr("stroke-width", 3);
  yAxis.selectAll("text").attr("font-size", 48).attr("font-family", "Inter").attr("fill", "#111");
  g.append("line").attr("x1", 269).attr("x2", 1626).attr("y1", 2073).attr("y2", 2073).attr("stroke", "#111").attr("stroke-width", 4);

  g.append("text").attr("x", 961).attr("y", 1209).attr("text-anchor", "middle").attr("font-size", 46.5)
    .text("Differential Expressed Genes in Different Groups");
  g.append("text").attr("transform", "translate(84,1671) rotate(-90)").attr("text-anchor", "middle").attr("font-size", 46.5)
    .text("DEG Gene Counts");

  [[49, 136], [269, 354], [463, 546]].forEach(([rx, tx], i) => {
    g.append("rect").attr("x", rx).attr("y", 2196).attr("width", 60).attr("height", 36).attr("fill", barColor(degKeys[i]));
    g.append("text").attr("x", tx).attr("y", 2231).attr("font-size", 46.5).text(degKeys[i]);
  });
}
drawBars();
panelLabel("D", 46, 1130);

// E: venn
function drawVenn() {
  const g = svg.append("g");
  const fills = ["#0D5ACB", "#F7B04F", "#019F6F"];
  const centres = [[843, 2796.5], [687, 3068], [1000, 3068]];
  g.selectAll("circle").data(vennSets).join("circle")
    .attr("cx", (d, i) => centres[i][0]).attr("cy", (d, i) => centres[i][1]).attr("r", 314)
    .attr("fill", (d, i) => fills[i]).attr("fill-opacity", 0.37);
  const countPos = [[844, 2559], [657, 2884], [1035, 2884], [843, 3004], [474, 3217], [843, 3203], [1206, 3203]];
  g.selectAll(".cnt").data(vennCounts).join("text")
    .attr("x", (d, i) => countPos[i][0]).attr("y", (d, i) => countPos[i][1])
    .attr("text-anchor", "middle").attr("font-size", 47).text((d) => d);
  const namePos = [[842, 2446], [469, 3452], [1196, 3452]];
  g.selectAll(".nm").data(vennSets).join("text")
    .attr("x", (d, i) => namePos[i][0]).attr("y", (d, i) => namePos[i][1])
    .attr("text-anchor", "middle").attr("font-size", 46).text((d) => d);
}
drawVenn();
panelLabel("E", 46, 2364);

// F: heatmap with gene tree
function drawHeatmap() {
  const g = svg.append("g").attr("class", "hm");
  const x = d3.scaleBand().domain(samples).range([1805, 3089]);
  const y = d3.scaleBand().domain(genes).range([1277, 3642]);
  const colorScale = d3.scaleLinear().domain([3.58, 0.75, -2.08]).range(["#B2303A", "#FDFDFD", "#3A72AA"]);

  const rows = g.append("g").selectAll("g").data(heat).join("g");
  rows.selectAll("rect").data((d, i) => d.map((v, j) => ({ v, i, j }))).join("rect")
    .attr("x", (d) => x(samples[d.j])).attr("y", (d) => y(genes[d.i]))
    .attr("width", x.bandwidth()).attr("height", y.bandwidth())
    .attr("fill", (d) => colorScale(d.v))
    .attr("stroke", "rgba(255,255,255,0.2)").attr("stroke-width", 1.5);

  g.append("g").selectAll("rect").data(samples).join("rect")
    .attr("x", (d) => x(d)).attr("y", 1252).attr("width", x.bandwidth()).attr("height", 24)
    .attr("fill", (d, i) => groupColors[Math.floor(i / 5)])
    .attr("stroke", "rgba(255,255,255,0.2)").attr("stroke-width", 1.5);

  g.append("g").selectAll("text").data(sampleGroups).join("text")
    .attr("x", (d, i) => x(samples[i * 5]) + x.bandwidth() * 2.5).attr("y", 1212)
    .attr("text-anchor", "middle").attr("font-size", 45).attr("font-family", "Inter").text((d) => d);

  g.append("g").selectAll("text").data(genes).join("text")
    .attr("x", 3107).attr("y", (d) => y(d) + y.bandwidth() / 2 - 2).attr("dy", "0.35em")
    .attr("font-size", 31.7).text((d) => d);

  g.append("g").selectAll("text").data(samples).join("text")
    .attr("transform", (d) => `translate(${x(d) + x.bandwidth() / 2 - 2},3660) rotate(-90)`)
    .attr("dy", "0.35em").attr("text-anchor", "end").attr("font-size", 29).text((d) => d);

  // tree from the merge table, walked with d3.hierarchy
  const h = d3.scaleLinear().domain([0, 80]).range([1805, 1719]);
  const nodeOf = (ref) => (ref < 0 ? { leaf: -ref - 1, height: 0 } : built[ref - 1]);
  const built = [];
  dendroMerges.forEach(([a, b, ht]) => built.push({ height: ht, children: [nodeOf(a), nodeOf(b)] }));
  const root = d3.hierarchy(built[built.length - 1]);
  root.eachAfter((n) => {
    n.yPos = n.children ? (n.children[0].yPos + n.children[1].yPos) / 2 : y(genes[n.data.leaf]) + y.bandwidth() / 2;
  });
  const tree = d3.path();
  root.descendants().filter((n) => n.children).forEach((n) => {
    const [a, b] = n.children;
    tree.moveTo(h(a.data.height), a.yPos);
    tree.lineTo(h(n.data.height), a.yPos);
    tree.lineTo(h(n.data.height), b.yPos);
    tree.lineTo(h(b.data.height), b.yPos);
  });
  g.append("path").attr("d", tree.toString()).attr("fill", "none").attr("stroke", "#a3a3a3").attr("stroke-width", 2);

  // colour key
  const bar = d3.scaleLinear().domain([3.58, -2.08]).range([1717, 2000]);
  const grad = svg.append("defs").append("linearGradient").attr("id", "key");
  d3.range(0, 1.001, 0.05).forEach((f) => {
    grad.append("stop").attr("offset", f).attr("stop-color", colorScale(3.58 + (-2.08 - 3.58) * f));
  });
  g.append("rect").attr("x", 1717).attr("y", 3803).attr("width", 283).attr("height", 41).attr("fill", "url(#key)");
  colorbarTicks.forEach((v) => {
    g.append("line").attr("x1", bar(v)).attr("x2", bar(v)).attr("y1", 3803).attr("y2", 3811).attr("stroke", "#fff").attr("stroke-width", 2);
    g.append("line").attr("x1", bar(v)).attr("x2", bar(v)).attr("y1", 3836).attr("y2", 3844).attr("stroke", "#fff").attr("stroke-width", 2);
    g.append("text").attr("x", bar(v)).attr("y", 3795).attr("text-anchor", "middle").attr("font-size", 30)
      .text(v < 0 ? "\u2212" + Math.abs(v) : v);
  });
}
drawHeatmap();
panelLabel("F", 1717, 1130);
</script>
</body>
</html>
